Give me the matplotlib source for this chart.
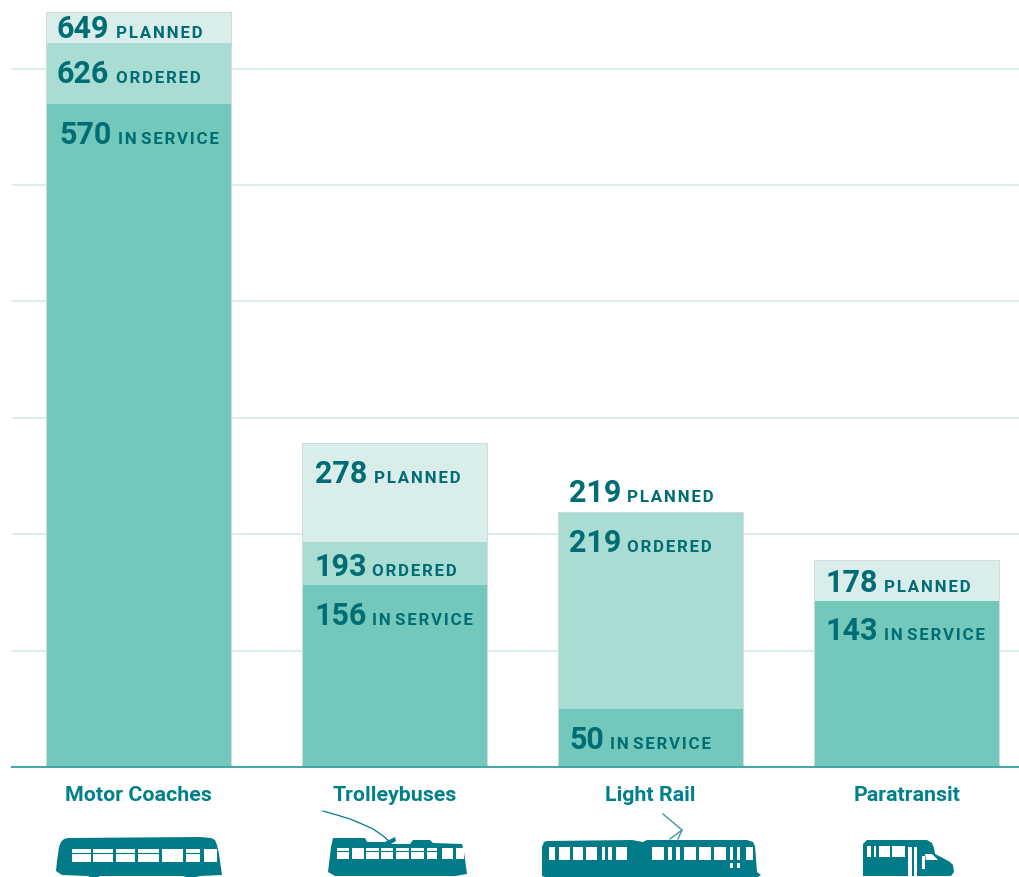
import matplotlib
matplotlib.use('Agg')
import matplotlib.pyplot as plt
from matplotlib.patches import Polygon, Rectangle

plt.rcParams['font.family'] = ['Roboto', 'DejaVu Sans']

categories = ['Motor Coaches', 'Trolleybuses', 'Light Rail', 'Paratransit']
in_service = [570, 156, 50, 143]
ordered = [626, 193, 219, 0]
planned = [649, 278, 219, 178]
# the top ordered band is drawn a little short of its label in the original
ordered_drawn = [622, 193, 219, 0]
grid_values = [100, 200, 300, 400, 500, 600]

TEXT = '#006d74'
LABEL = '#00808a'
C_SERVICE = '#72c9bb'
C_ORDERED = '#a9dcd2'
C_PLANNED = '#d9edea'
C_GRID = '#d6ebe6'
C_AXIS = '#46a6a8'
C_ICON = '#007b87'

W, H = 1019, 878
BAR_W = 185 / 256


def spaced(s):
    # fake the wide tracking of the original, words stay close together
    return ' '.join('\u200a'.join(w) for w in s.split(' '))


fig = plt.figure(figsize=(W / 100, H / 100), dpi=100)
ax = fig.add_axes([12 / W, (H - 768) / H, (W - 12) / W, 768 / H])
ax.set_xlim(-126.7 / 256, 880.3 / 256)
ax.set_ylim(0, 768 / 1.164)

for i in range(4):
    ax.bar(i, planned[i], BAR_W, color=C_PLANNED, zorder=2)
    ax.bar(i, ordered_drawn[i], BAR_W, color=C_ORDERED, zorder=3)
    ax.bar(i, in_service[i], BAR_W, color=C_SERVICE, zorder=4)
    ax.bar(i, planned[i], BAR_W, fill=False, edgecolor='#cfdcd9', lw=0.7, zorder=5)

for g in grid_values:
    ax.axhline(g, color=C_GRID, lw=1.2, zorder=1)

for s in ['top', 'left', 'right']:
    ax.spines[s].set_visible(False)
ax.spines['bottom'].set_color(C_AXIS)
ax.spines['bottom'].set_linewidth(1.5)
ax.spines['bottom'].set_zorder(6)
ax.set_yticks([])
ax.set_xticks(range(4))
ax.set_xticklabels(categories, fontsize=15.4, fontweight='bold', color=LABEL)
ax.tick_params(axis='x', length=0, pad=13)


def label(i, value, word, top, number_dx, word_dx, below):
    # offsets are in pixels from the bar's left edge and the band's top
    x0 = i - BAR_W / 2
    ax.annotate(str(value), (x0, top), xytext=(number_dx * 0.72, -below * 0.72),
                textcoords='offset points', fontsize=22, fontweight='bold',
                color=TEXT, va='baseline', zorder=7)
    ax.annotate(spaced(word), (x0, top), xytext=(word_dx * 0.72, -below * 0.72),
                textcoords='offset points', fontsize=12.2, fontweight='bold',
                color=TEXT, va='baseline', zorder=7)


label(0, planned[0], 'PLANNED', planned[0], 10, 70, 25)
label(0, ordered[0], 'ORDERED', ordered_drawn[0], 10, 70, 39)
label(0, in_service[0], 'IN SERVICE', in_service[0], 13, 72, 39)
label(1, planned[1], 'PLANNED', planned[1], 13, 72, 39)
label(1, ordered[1], 'ORDERED', ordered[1], 12, 70, 33)
label(1, in_service[1], 'IN SERVICE', in_service[1], 12, 70, 39)
label(2, planned[2], 'PLANNED', planned[2], 11, 69, -11)
label(2, ordered[2], 'ORDERED', ordered[2], 11, 69, 39)
label(2, in_service[2], 'IN SERVICE', in_service[2], 11, 52, 39)
label(3, planned[3], 'PLANNED', planned[3], 11, 70, 31)
label(3, in_service[3], 'IN SERVICE', in_service[3], 11, 70, 38)

# vehicle silhouettes, drawn in pixel coordinates
icons = fig.add_axes([0, 0, 1, 1], facecolor='none')
icons.set_xlim(0, W)
icons.set_ylim(H, 0)
icons.axis('off')


def body(points):
    icons.add_patch(Polygon(points, closed=True, color=C_ICON, lw=0))


def windows(xs, y0, y1):
    for a, b in xs:
        icons.add_patch(Rectangle((a, y0), b - a, y1 - y0, color='white', lw=0))


# motor coach
body([(56, 872), (57, 862), (59, 848), (61, 843), (64, 840), (68, 839), (200, 838), (211, 839),
      (215, 841), (217, 846), (219, 855), (222, 876), (200, 877), (196, 878), (186, 878),
      (183, 877), (100, 877), (98, 878), (90, 878), (88, 877), (62, 876)])
windows([(72, 91), (93, 113), (116, 135), (138, 159), (162, 183), (186, 200), (204, 217)], 850, 863)
for a, b in [(72, 91), (93, 113), (116, 135), (138, 159), (186, 200)]:
    icons.plot([a, b], [854, 854], color=C_ICON, lw=0.8)

# trolleybus
body([(328, 873), (331, 848), (333, 839), (365, 839), (367, 843), (385, 843), (395, 838),
      (396, 842), (391, 845), (410, 845), (413, 841), (430, 841), (433, 844), (462, 845),
      (464, 853), (467, 875), (455, 877), (335, 877)])
windows([(337, 349), (352, 364), (366, 379), (381, 393), (396, 409), (411, 424), (427, 437),
         (442, 453), (456, 464)], 849, 860)
for a, b in [(337, 349), (366, 379), (381, 393), (396, 409), (411, 424), (427, 437)]:
    icons.plot([a, b], [852.5, 852.5], color=C_ICON, lw=0.8)
icons.plot([323, 337, 350, 362, 373, 382, 390], [812, 816, 820, 825, 830, 836, 843], color=C_ICON, lw=0.9)

# light rail
body([(542, 877), (542, 848), (544, 843), (547, 842), (632, 841), (643, 843), (647, 841), (747, 841),
      (753, 843), (755, 847), (757, 873), (761, 876), (758, 878), (545, 878)])
windows([(549, 555), (559, 570), (573, 583), (586, 597), (602, 605), (608, 612), (616, 627),
         (652, 664), (668, 672), (676, 680), (684, 696), (699, 711), (714, 726), (730, 733),
         (737, 740), (746, 753)], 848, 861)
windows([(730, 733), (737, 740)], 864, 869)
icons.plot([663, 682, 670], [815, 831, 840], color='#3c9aa3', lw=1)
icons.plot([682, 678], [831, 840], color='#3c9aa3', lw=1)

# paratransit
body([(863, 877), (863, 845), (867, 841), (927, 841), (932, 844), (934, 849), (935, 855), (941, 858),
      (950, 863), (953, 866), (954, 873), (951, 877), (866, 877)])
windows([(867, 871), (874, 876), (879, 890), (892, 905)], 847, 858)
windows([(908, 912), (914, 917)], 848, 878)
windows([(922, 925)], 857, 870)
icons.add_patch(Polygon([(925, 855), (932, 855), (938, 861), (926, 861)], closed=True, color='white', lw=0))

fig.savefig('out.png', dpi=100, facecolor='white')
